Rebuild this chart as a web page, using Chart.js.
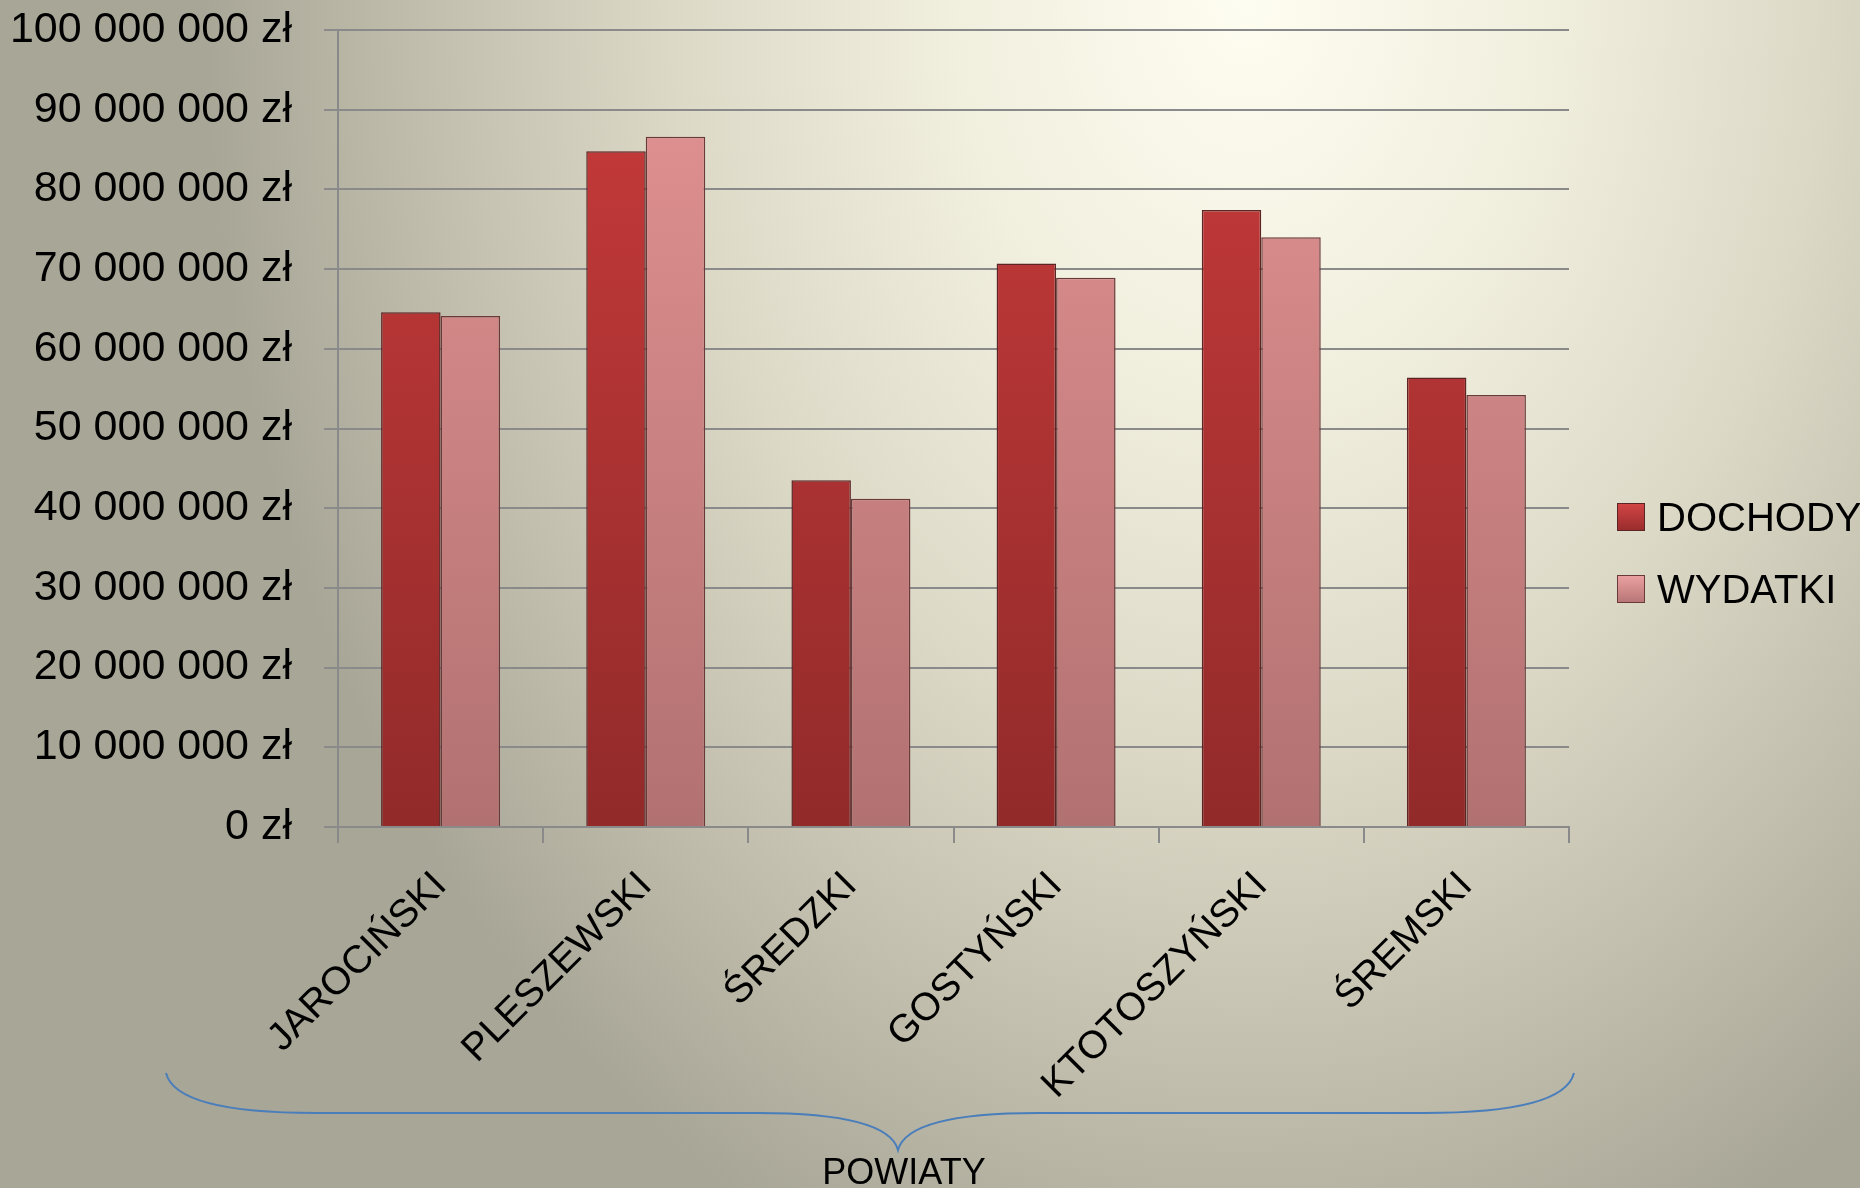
<!DOCTYPE html>
<html lang="pl">
<head>
<meta charset="UTF-8">
<title>Dochody i wydatki powiatów</title>
<script src="https://cdn.jsdelivr.net/npm/chart.js@4.4.1/dist/chart.umd.min.js"></script>
<style>
    html, body {
        margin: 0;
        padding: 0;
        width: 1860px;
        height: 1188px;
        overflow: hidden;
    }
    body {
        background: radial-gradient(ellipse 56% 115% at 67% 0%, #fefdf1 0%, #f1efde 28%, #dcd9c7 55%, #c0bdac 80%, #a8a697 100%);
        background-color: #a5a394;
        font-family: "Liberation Sans", sans-serif;
    }
    #wrap {
        position: absolute;
        left: 0; top: 0;
        width: 1860px;
        height: 1188px;
    }
    #legend {
        position: absolute;
        left: 1617px;
        top: 481px;
        font-size: 40px;
        color: #000;
    }
    .item {
        height: 72px;
        line-height: 72px;
        white-space: nowrap;
    }
    .box {
        display: inline-block;
        width: 26px;
        height: 26px;
        margin-right: 12px;
        vertical-align: middle;
        position: relative;
        top: -3px;
    }
</style>
</head>
<body>
<div id="wrap"><canvas id="myChart"></canvas></div>
<div id="legend">
    <div class="item"><span class="box" style="background: linear-gradient(#d24545, #9a2c2c); border: 1px solid #5c2525"></span>DOCHODY</div>
    <div class="item"><span class="box" style="background: linear-gradient(#eba0a0, #b87676); border: 1px solid #6a3a3a"></span>WYDATKI</div>
</div>

<script type="text/javascript">
// dane
var powiaty = ["JAROCIŃSKI", "PLESZEWSKI", "ŚREDZKI", "GOSTYŃSKI", "KTOTOSZYŃSKI", "ŚREMSKI"];
var dochody = [64600000, 84800000, 43500000, 70700000, 77400000, 56400000];
var wydatki = [64100000, 86600000, 41200000, 68900000, 74000000, 54200000];
var osTitle = "POWIATY";

var fontName = "'Liberation Sans', sans-serif";

// gradient pionowy dla słupków
function barGradient(ctx, top, bottom) {
    var chart = ctx.chart;
    var area = chart.chartArea;
    if (!area) return top;
    var g = chart.ctx.createLinearGradient(0, area.top, 0, area.bottom);
    g.addColorStop(0, top);
    g.addColorStop(1, bottom);
    return g;
}

function formatZl(v) {
    return String(v).replace(/\B(?=(\d{3})+(?!\d))/g, " ") + " zł";
}

// klamra pod osią i podpis POWIATY
const bracePlugin = {
    id: 'brace',
    afterDraw(chart) {
        var c = chart.ctx;
        var x1 = 166, x2 = 1574, xm = 898;
        var yTop = 1073, yLine = 1113, yTip = 1150;
        c.save();
        c.strokeStyle = "#4a7ebb";
        c.lineWidth = 2;
        c.beginPath();
        c.moveTo(x1, yTop);
        c.quadraticCurveTo(x1 + 10, yLine, x1 + 150, yLine);
        c.lineTo(xm - 140, yLine);
        c.quadraticCurveTo(xm - 10, yLine, xm, yTip);
        c.quadraticCurveTo(xm + 10, yLine, xm + 140, yLine);
        c.lineTo(x2 - 150, yLine);
        c.quadraticCurveTo(x2 - 10, yLine, x2, yTop);
        c.stroke();
        c.fillStyle = "#000";
        c.font = "36px " + fontName;
        c.textAlign = "center";
        c.textBaseline = "top";
        c.fillText(osTitle, 904, 1156);
        c.restore();
    }
};

const config = {
    type: 'bar',
    data: {
        labels: powiaty,
        datasets: [{
            label: 'DOCHODY',
            data: dochody,
            backgroundColor: function(ctx) { return barGradient(ctx, '#c93b3b', '#922a2a'); },
            borderColor: '#5c2525',
            borderWidth: 1.5,
            categoryPercentage: 0.58,
            barPercentage: 1.0
        }, {
            label: 'WYDATKI',
            data: wydatki,
            backgroundColor: function(ctx) { return barGradient(ctx, '#e49393', '#b27171'); },
            borderColor: '#6a3a3a',
            borderWidth: 1.5,
            categoryPercentage: 0.58,
            barPercentage: 1.0
        }]
    },
    options: {
        responsive: true,
        maintainAspectRatio: false,
        animation: false,
        layout: { padding: { top: 30, right: 291, left: 0, bottom: 0 } },
        plugins: {
            legend: { display: false },
            tooltip: { enabled: false }
        },
        scales: {
            y: {
                min: 0,
                max: 100000000,
                afterFit: function(s) { s.width = 338; s.paddingTop = 0; s.paddingBottom = 0; },
                ticks: {
                    stepSize: 10000000,
                    color: '#000',
                    padding: 32,
                    font: { family: fontName, size: 43 },
                    callback: function(v) { return formatZl(v); }
                },
                grid: { color: '#8a8a8a', lineWidth: 2, tickLength: 14 },
                border: { color: '#8a8a8a', width: 2 }
            },
            x: {
                afterFit: function(s) { s.height = 361; s.paddingLeft = 0; s.paddingRight = 0; },
                ticks: {
                    color: '#000',
                    minRotation: 45,
                    maxRotation: 45,
                    padding: 20,
                    font: { family: fontName, size: 39 }
                },
                grid: { drawOnChartArea: false, color: '#8a8a8a', lineWidth: 2, tickLength: 16 },
                border: { color: '#8a8a8a', width: 2 }
            }
        }
    },
    plugins: [bracePlugin]
};

var myChart = new Chart(document.getElementById('myChart'), config);
</script>
</body>
</html>
